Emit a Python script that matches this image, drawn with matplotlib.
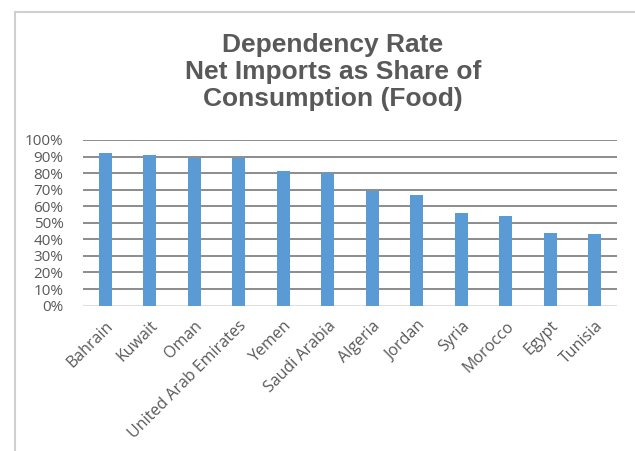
import matplotlib
matplotlib.use("Agg")
import matplotlib.pyplot as plt
from matplotlib.lines import Line2D

countries = ["Bahrain", "Kuwait", "Oman", "United Arab Emirates", "Yemen",
             "Saudi Arabia", "Algeria", "Jordan", "Syria", "Morocco", "Egypt", "Tunisia"]
values = [92, 91, 89, 89, 81, 80, 69, 67, 56, 54, 44, 43]
yticks = [0, 10, 20, 30, 40, 50, 60, 70, 80, 90, 100]
title = "Dependency Rate\nNet Imports as Share of\nConsumption (Food)"

W, H = 635, 451
fig = plt.figure(figsize=(W/100, H/100), dpi=100)
ax = fig.add_axes([83/W, 1-305.6/H, (617-83)/W, (305.6-140)/H])

x = list(range(len(countries)))
ax.bar(x, values, width=0.3, color="#5b9bd5", zorder=3)
ax.set_xlim(-0.5, len(countries)-0.5)
ax.set_ylim(0, 100)
ax.set_yticks(yticks)
ax.set_yticklabels([f"{t}%" for t in yticks], fontfamily="Open Sans", fontsize=11, color="#595959")
for t in yticks[1:]:
    ax.axhline(t, color="#8c8c8c", lw=1.4, zorder=1)
ax.axhline(0, color="#d9d9d9", lw=1.2, zorder=2)
ax.set_xticks(x)
ax.set_xticklabels(countries, rotation=45, ha="right", rotation_mode="anchor",
                   fontfamily="Open Sans", fontsize=11.5, color="#595959")
ax.tick_params(axis="both", length=0)
ax.tick_params(axis="x", pad=9)
ax.tick_params(axis="y", pad=14)
for s in ax.spines.values():
    s.set_visible(False)

fig.text(333/W, 1-72/H, title, ha="center", va="center", fontsize=19,
         fontweight="bold", color="#595959", fontfamily="Liberation Sans", linespacing=1.15)

fig.add_artist(Line2D([14.5/W, 14.5/W], [0, 1-11.5/H], transform=fig.transFigure, color="#d0d0d0", lw=1.5))
fig.add_artist(Line2D([14.5/W, 1], [1-11.5/H, 1-11.5/H], transform=fig.transFigure, color="#d0d0d0", lw=1.5))

fig.savefig("out.png", dpi=100)
